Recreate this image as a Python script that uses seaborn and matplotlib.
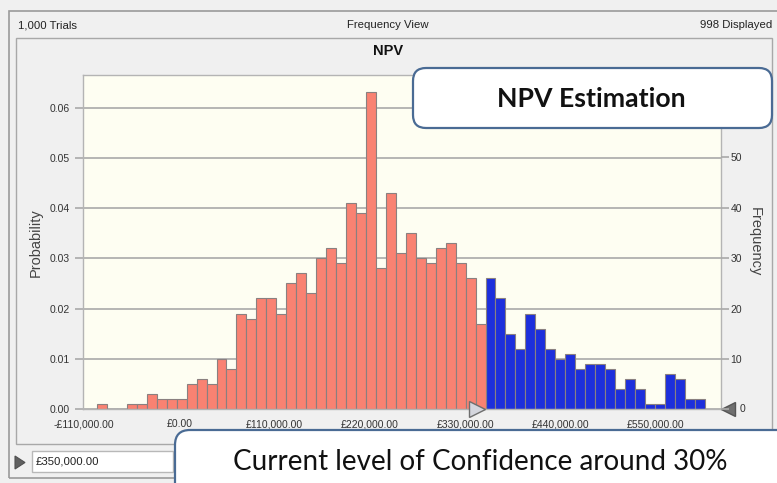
import numpy as np
import pandas as pd
import matplotlib.pyplot as plt
import seaborn as sns
from matplotlib.patches import FancyBboxPatch, Rectangle, Polygon
from matplotlib.transforms import ScaledTranslation

# ==========================================
# Data
# ==========================================
bin_start = -95000
bin_width = 11500
threshold = 350000
total_trials = 1000
displayed = 998

# frequencies below the threshold (salmon) and above it (blue)
freq_below = [1, 0, 0, 1, 1, 3, 2, 2, 2, 5, 6, 5, 10, 8, 19, 18, 22, 22, 19, 25,
              27, 23, 30, 32, 29, 41, 39, 63, 28, 43, 31, 35, 30, 29, 32, 33, 29, 26, 17]
freq_above = [26, 22, 15, 12, 19, 16, 12, 10, 11, 8, 9, 9, 8, 4, 6, 4, 1, 1, 7, 6, 2, 2]

x_ticks = [-110000, 0, 110000, 220000, 330000, 440000, 550000]
prob_ticks = [0.00, 0.01, 0.02, 0.03, 0.04, 0.05, 0.06]
freq_ticks = [0, 10, 20, 30, 40, 50, 60]

RED = "#f98272"
BLUE = "#1d2fdc"
CREAM = "#fefef2"
GRID = "#a9a9a9"
FRAME = "#4a6b94"

freq = freq_below + freq_above
edges = [bin_start + bin_width * i for i in range(len(freq) + 1)]
centers = [e + bin_width / 2 for e in edges[:-1]]
df = pd.DataFrame({
    "npv": centers,
    "trials": freq,
    "zone": ["above" if c >= threshold else "below" for c in centers],
})

# ==========================================
# Figure
# ==========================================
sns.set_theme(style="white")
plt.rcParams["font.family"] = ["Liberation Sans", "DejaVu Sans"]

W, H = 777, 483
fig = plt.figure(figsize=(W / 100, H / 100), dpi=100, facecolor="#f0f0f0")


def px(x, y):
    # pixel position (from top-left) -> inches for fig.dpi_scale_trans
    return x / 100, (H - y) / 100


# window frame and inner panel (behind the axes)
fig.patches.append(Rectangle(px(9, 478), (800 - 9) / 100, (478 - 11) / 100,
                             transform=fig.dpi_scale_trans, fill=False,
                             ec="#9a9a9a", lw=1.2, zorder=-2))
fig.patches.append(Rectangle(px(16, 444), (772 - 16) / 100, (444 - 38) / 100,
                             transform=fig.dpi_scale_trans, fc="#f0f0f0",
                             ec="#a8a8a8", lw=1.0, zorder=-1))

small = 8.2
fig.text(18 / W, 1 - 25 / H, "1,000 Trials", fontsize=small, color="#222",
         ha="left", va="center")
fig.text(388 / W, 1 - 25 / H, "Frequency View", fontsize=small, color="#222",
         ha="center", va="center")
fig.text(772 / W, 1 - 25 / H, f"{displayed} Displayed", fontsize=small,
         color="#222", ha="right", va="center")
fig.text(388 / W, 1 - 51 / H, "NPV", fontsize=10.5, weight="bold", color="#111",
         ha="center", va="center")

ax = fig.add_axes([82.7 / W, 1 - 409.3 / H, (720.7 - 82.7) / W, (409.3 - 75) / H])
ax.set_facecolor(CREAM)

sns.histplot(
    data=df,
    x="npv",
    weights="trials",
    hue="zone",
    bins=edges,
    stat="probability",
    palette={"below": RED, "above": BLUE},
    alpha=1,
    edgecolor="#8a8080",
    linewidth=0.8,
    legend=False,
    ax=ax,
)

ax.set_xlim(-111500, 625000)
ax.set_ylim(0, 0.0665)
ax.set_axisbelow(True)
ax.yaxis.grid(True, color=GRID, lw=1.2)
ax.xaxis.grid(False)

ax.set_yticks(prob_ticks)
ax.set_yticklabels([f"{v:.2f}" for v in prob_ticks])
ax.set_xticks(x_ticks)
ax.set_xticklabels([("-£" if v < 0 else "£") + f"{abs(v):,.2f}" for v in x_ticks])
ax.tick_params(axis="y", length=6, width=1.2, color=GRID, labelsize=7.5,
               labelcolor="#333", pad=3)
ax.tick_params(axis="x", length=4, width=1, color=GRID, labelsize=7.5,
               labelcolor="#333", pad=3)
ax.set_xlabel("")
ax.set_ylabel("Probability", fontsize=10.5, color="#444", labelpad=5)
for s in ax.spines.values():
    s.set_color("#b4b4b4")
    s.set_linewidth(1)

ax2 = ax.twinx()
ax2.set_ylim(0, 0.0665 * displayed)
ax2.set_yticks(freq_ticks)
ax2.set_yticklabels([""] + [str(v) for v in freq_ticks[1:]])
ax2.tick_params(axis="y", length=6, width=1.2, color=GRID, labelsize=7.5,
                labelcolor="#333", pad=1)
ax2.set_ylabel("Frequency", fontsize=10.5, color="#444", rotation=270,
               labelpad=14)
for s in ax2.spines.values():
    s.set_visible(False)

# certainty grabbers
ax.plot([threshold], [0], marker=">", ms=11, mfc="#d4d6de", mec="#6e6e6e",
        mew=1, clip_on=False, zorder=6,
        transform=ax.transData + ScaledTranslation(-5.5 / 100, 0.5 / 100, fig.dpi_scale_trans))
ax.plot([1], [0], marker="<", ms=10, mfc="#6f6f6f", mec="#555", mew=1,
        clip_on=False, zorder=6,
        transform=ax.transAxes + ScaledTranslation(7.5 / 100, 0.5 / 100, fig.dpi_scale_trans))
ax.text(1, 0, "0", fontsize=7.5, color="#333", ha="left", va="center",
        transform=ax.transAxes + ScaledTranslation(19 / 100, 0, fig.dpi_scale_trans))

# certainty entry box
fig.patches.append(Rectangle(px(32, 472), (173 - 32) / 100, (472 - 451) / 100,
                             transform=fig.dpi_scale_trans, fc="white",
                             ec="#b8b8b8", lw=1))
fig.text(36 / W, 1 - 462 / H, "£350,000.00", fontsize=small, color="#222",
         ha="left", va="center")
fig.patches.append(Polygon([px(15, 456), px(15, 469), px(25, 462.5)], closed=True,
                           transform=fig.dpi_scale_trans, fc="#606060",
                           ec="#505050", lw=0.8))

# callouts
fig.patches.append(FancyBboxPatch(px(413, 128), (772 - 413) / 100, (128 - 68) / 100,
                                  boxstyle="round,pad=0,rounding_size=0.13",
                                  transform=fig.dpi_scale_trans, fc="white",
                                  ec=FRAME, lw=1.6, zorder=10))
fig.text(591 / W, 1 - 99 / H, "NPV Estimation", fontsize=19.2, weight="bold",
         family=["Lato", "DejaVu Sans"], color="#111", ha="center",
         va="center", zorder=11)

fig.patches.append(FancyBboxPatch(px(175, 520), (820 - 175) / 100, (520 - 430) / 100,
                                  boxstyle="round,pad=0,rounding_size=0.15",
                                  transform=fig.dpi_scale_trans, fc="white",
                                  ec=FRAME, lw=1.6, zorder=10))
fig.text(480 / W, 1 - 462 / H, "Current level of Confidence around 30%",
         fontsize=20, family=["Lato", "DejaVu Sans"], color="#111",
         ha="center", va="center", zorder=11)

fig.savefig("out.png", dpi=100, facecolor=fig.get_facecolor())
